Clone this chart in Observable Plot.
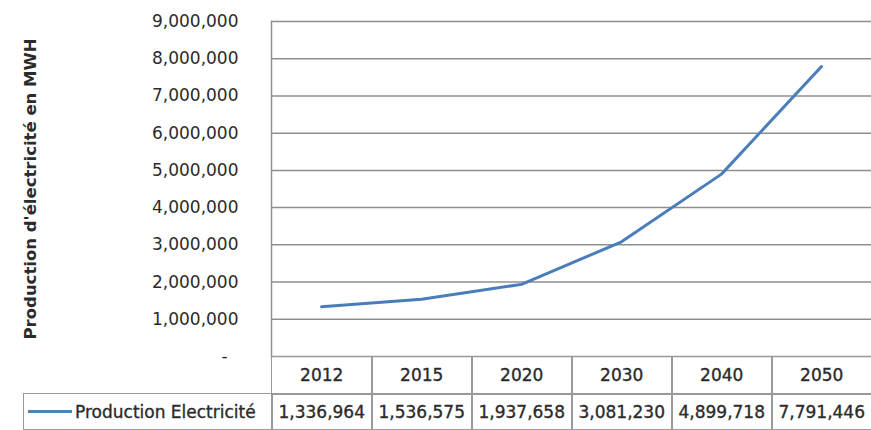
<!DOCTYPE html>
<html>
<head>
<meta charset="utf-8">
<script src="https://cdn.jsdelivr.net/npm/d3@7"></script>
<script src="https://cdn.jsdelivr.net/npm/@observablehq/plot@0.6"></script>
<style>
  html, body { margin: 0; padding: 0; background: #fff; }
  #wrap { position: relative; width: 871px; height: 430px; overflow: hidden; font-family: "DejaVu Sans", sans-serif; }
  .cell { position: absolute; box-sizing: border-box; border: 1.5px solid #9a9a9a; display: flex; align-items: center; justify-content: center; color: #2b2b2b; font-size: 17px; white-space: nowrap; -webkit-text-stroke: 0.35px #2b2b2b; }
</style>
</head>
<body>
<div id="wrap"></div>
<script>
const years = ["2012", "2015", "2020", "2030", "2040", "2050"];
const production = [1336964, 1536575, 1937658, 3081230, 4899718, 7791446];
const yTicks = [0, 1000000, 2000000, 3000000, 4000000, 5000000, 6000000, 7000000, 8000000, 9000000];
const seriesName = "Production Electricité";
const yTitle = "Production d'électricité en MWH";

const data = years.map((y, i) => ({year: y, value: production[i]}));
const fmt = d3.format(",");
const lineColor = "#4a7ebb";

const chart = Plot.plot({
  width: 871,
  height: 430,
  marginLeft: 271,
  marginRight: 0,
  marginTop: 21,
  marginBottom: 74,
  style: {fontFamily: "DejaVu Sans, sans-serif", background: "transparent"},
  x: {type: "band", domain: years, padding: 0, axis: null},
  y: {domain: [0, 9000000], axis: null},
  marks: [
    Plot.ruleY(yTicks, {stroke: "#8f8f8f", strokeWidth: 1.5}),
    Plot.frame({anchor: "left", stroke: "#8f8f8f", strokeWidth: 1.5}),
    Plot.axisY(yTicks, {tickSize: 0, tickPadding: 33, tickFormat: d => d === 0 ? "-\u2007" : fmt(d), fontSize: 17, fill: "#2b2b2b", stroke: "#2b2b2b", strokeWidth: 0.35, label: null}),
    Plot.text([yTitle], {frameAnchor: "left", rotate: -90, dx: -241, textAnchor: "middle", fontWeight: "bold", fontSize: 16.5, fill: "#2b2b2b"}),
    Plot.lineY(data, {x: "year", y: "value", stroke: lineColor, strokeWidth: 3, curve: "linear"})
  ]
});
const wrap = document.getElementById("wrap");
chart.style.position = "absolute";
chart.style.left = "0px";
chart.style.top = "0px";
wrap.appendChild(chart);

// data table built from the chart's own x and y scales
const xs = chart.scale("x");
const ys = chart.scale("y");
const bw = xs.bandwidth;
const top0 = ys.apply(0);
const row1 = 37, row2 = 37;
function cell(left, top, w, h, html, extra) {
  const d = document.createElement("div");
  d.className = "cell";
  d.style.left = left + "px";
  d.style.top = top + "px";
  d.style.width = w + "px";
  d.style.height = h + "px";
  d.innerHTML = html;
  if (extra) Object.assign(d.style, extra);
  wrap.appendChild(d);
}
const x0 = xs.apply(years[0]);
years.forEach((y, i) => {
  const left = xs.apply(y);
  cell(left, top0, bw + 1.5, row1 + 1.5, y);
  cell(left, top0 + row1, bw + 1.5, row2, fmt(production[i]));
});
cell(23, top0 + row1, x0 - 23 + 1.5, row2,
  `<span style="display:inline-block;width:44px;height:3px;background:#4f86b0;margin-right:3px"></span>${seriesName}`,
  {justifyContent: "flex-start", paddingLeft: "4px", fontSize: "17px"});
</script>
</body>
</html>
